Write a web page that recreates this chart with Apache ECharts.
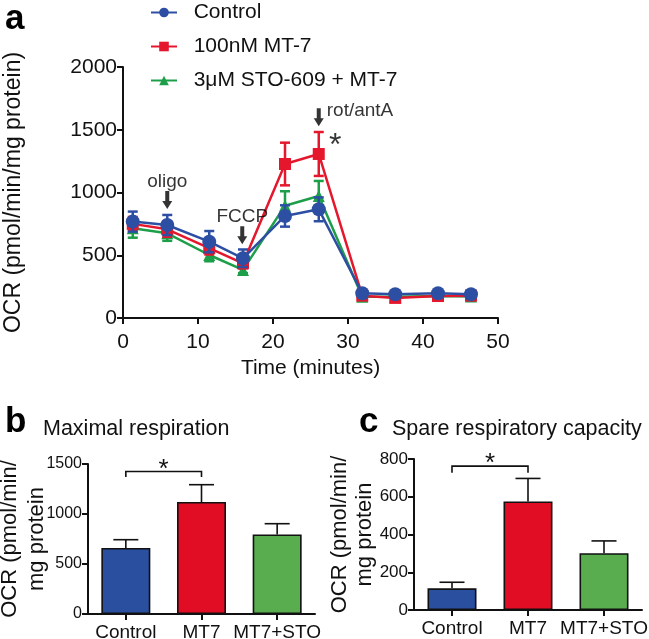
<!DOCTYPE html>
<html>
<head>
<meta charset="utf-8">
<script src="https://cdn.jsdelivr.net/npm/echarts@6/dist/echarts.min.js"></script>
<style>
  html, body { margin: 0; padding: 0; background: #fff; }
  #chart { width: 649px; height: 639px; }
</style>
</head>
<body>
<div id="chart"></div>
<script>
// data
const times = [1.3, 5.9, 11.5, 16, 21.6, 26.1, 31.9, 36.3, 42, 46.4];
const controlMean = [768, 741, 608, 476, 813, 866, 197, 189, 197, 189];
const controlErr = [80, 80, 85, 70, 85, 95, 12, 12, 12, 12];
const mt7Mean = [750, 707, 556, 436, 1227, 1307, 178, 160, 175, 178];
const mt7Err = [55, 60, 50, 40, 170, 175, 12, 12, 12, 12];
const stoMean = [715, 675, 502, 383, 895, 972, 170, 170, 175, 172];
const stoErr = [75, 60, 50, 25, 115, 120, 10, 10, 10, 10];
const legendNames = ['Control', '100nM MT-7', '3\u03bcM STO-609 + MT-7'];

const yTicksA = [0, 2000, 500];
const xTicksA = [0, 50, 10];

// injection annotations (time, y-position, text)
const arrowTimes = [5.9, 15.9, 26.1];
const arrowValues = [940, 660, 1600];
const arrowLabels = ['oligo', 'FCCP', 'rot/antA'];
const starA = [28.3, 1370];

const barCats = ['Control', 'MT7', 'MT7+STO'];
const maxResp = [660, 1120, 796];
const maxRespErr = [83, 173, 107];
const spareCap = [115, 575, 301];
const spareCapErr = [32, 122, 65];
// significance brackets: [fromIdx, toIdx, top, legEnd]
const sigB = [0, 1, 1425, 1370];
const sigC = [0, 1, 762, 727];

const FONT = 'Liberation Sans, Arial, sans-serif';
const BLUE = '#2d4fa3', RED = '#e5172c', GREEN = '#1d9e48';
const barColors = ['#2a4f9f', '#e10d25', '#5aad4f'];

const chart = echarts.init(document.getElementById('chart'));

function zip(a, b, c) {
  return a.map((v, i) => c ? [v, b[i], c[i]] : [v, b[i]]);
}

function errorBars(color) {
  return function(params, api) {
    const x = api.value(0), m = api.value(1), e = api.value(2);
    const hi = api.coord([x, m + e]);
    const lo = api.coord([x, m - e]);
    const w = 5;
    const st = { stroke: color, lineWidth: 2.5 };
    return { type: 'group', children: [
      { type: 'line', shape: { x1: hi[0], y1: hi[1], x2: lo[0], y2: lo[1] }, style: st },
      { type: 'line', shape: { x1: hi[0] - w, y1: hi[1], x2: hi[0] + w, y2: hi[1] }, style: st },
      { type: 'line', shape: { x1: lo[0] - w, y1: lo[1], x2: lo[0] + w, y2: lo[1] }, style: st }
    ]};
  };
}

function barErrors(params, api) {
  const i = api.value(0), m = api.value(1), e = api.value(2);
  const base = api.coord([i, m]);
  const hi = api.coord([i, m + e]);
  const w = 12.5;
  const st = { stroke: '#111', lineWidth: 1.6 };
  return { type: 'group', children: [
    { type: 'line', shape: { x1: base[0], y1: base[1], x2: hi[0], y2: hi[1] }, style: st },
    { type: 'line', shape: { x1: hi[0] - w, y1: hi[1], x2: hi[0] + w, y2: hi[1] }, style: st }
  ]};
}

function bracket(params, api) {
  const a = api.value(0), b = api.value(1), top = api.value(2), leg = api.value(3);
  const p1 = api.coord([a, leg]), p2 = api.coord([a, top]);
  const p3 = api.coord([b, top]), p4 = api.coord([b, leg]);
  return { type: 'group', children: [
    { type: 'polyline', shape: { points: [p1, p2, p3, p4] }, style: { stroke: '#111', lineWidth: 1.6, fill: null } },
    { type: 'text', x: (p2[0] + p3[0]) / 2, y: p2[1] - 2,
      style: { text: '*', fontSize: 26, fontFamily: FONT, fill: '#111', align: 'center', verticalAlign: 'middle' } }
  ]};
}

const axisLineStyle = { show: true, lineStyle: { color: '#111', width: 2 } };
const tickStyle = { show: true, inside: false, length: 6, lineStyle: { color: '#111', width: 2 } };
const plain = (v) => String(v);

const option = {
  animation: false,
  title: [
    { text: 'a', left: 0, top: -3, textStyle: { fontSize: 35, fontWeight: 'bold', color: '#000', fontFamily: FONT } },
    { text: 'b', left: 0, top: 400, textStyle: { fontSize: 35, fontWeight: 'bold', color: '#000', fontFamily: FONT } },
    { text: 'Maximal respiration', left: 38, top: 413, textStyle: { fontSize: 21.5, fontWeight: 'normal', color: '#111', fontFamily: FONT } },
    { text: 'c', left: 354, top: 400, textStyle: { fontSize: 35, fontWeight: 'bold', color: '#000', fontFamily: FONT } },
    { text: 'Spare respiratory capacity', left: 387, top: 413, textStyle: { fontSize: 21.5, fontWeight: 'normal', color: '#111', fontFamily: FONT } }
  ],
  legend: {
    data: legendNames,
    orient: 'vertical',
    left: 145,
    top: -3,
    itemGap: 13,
    itemWidth: 26,
    itemHeight: 12,
    formatter: '  {name}',
    textStyle: { fontSize: 21, color: '#111', fontFamily: FONT }
  },
  grid: [
    { left: 123, top: 67, width: 375, height: 251, outerBoundsMode: 'none', containLabel: false },
    { left: 88, top: 464, width: 227, height: 150, outerBoundsMode: 'none', containLabel: false },
    { left: 414, top: 459, width: 228, height: 151, outerBoundsMode: 'none', containLabel: false }
  ],
  xAxis: [
    {
      gridIndex: 0, type: 'value', min: xTicksA[0], max: xTicksA[1], interval: xTicksA[2],
      axisLine: axisLineStyle, axisTick: tickStyle, splitLine: { show: false },
      axisLabel: { fontSize: 21, color: '#111', fontFamily: FONT, margin: 14, formatter: plain },
      name: 'Time (minutes)', nameLocation: 'middle', nameGap: 40,
      nameTextStyle: { fontSize: 21, color: '#111', fontFamily: FONT }
    },
    {
      gridIndex: 1, type: 'category', data: barCats,
      axisLine: axisLineStyle, axisTick: Object.assign({ alignWithLabel: true }, tickStyle),
      axisLabel: { fontSize: 19, color: '#111', fontFamily: FONT, margin: 9, interval: 0 }
    },
    {
      gridIndex: 2, type: 'category', data: barCats,
      axisLine: axisLineStyle, axisTick: Object.assign({ alignWithLabel: true }, tickStyle),
      axisLabel: { fontSize: 19, color: '#111', fontFamily: FONT, margin: 9, interval: 0 }
    }
  ],
  yAxis: [
    {
      gridIndex: 0, type: 'value', min: yTicksA[0], max: yTicksA[1], interval: yTicksA[2],
      axisLine: axisLineStyle, axisTick: tickStyle, splitLine: { show: false },
      axisLabel: { fontSize: 21, color: '#111', fontFamily: FONT, margin: 6, formatter: plain },
      name: 'OCR (pmol/min/mg protein)', nameLocation: 'middle', nameGap: 98,
      nameTextStyle: { fontSize: 23, color: '#111', fontFamily: FONT }
    },
    {
      gridIndex: 1, type: 'value', min: 0, max: 1500, interval: 500,
      axisLine: axisLineStyle, axisTick: tickStyle, splitLine: { show: false },
      axisLabel: { fontSize: 16, color: '#111', fontFamily: FONT, margin: 6, formatter: plain },
      name: 'OCR (pmol/min/\nmg protein', nameLocation: 'middle', nameGap: 38, nameMoveOverlap: false,
      nameTextStyle: { fontSize: 22, lineHeight: 27, color: '#111', fontFamily: FONT }
    },
    {
      gridIndex: 2, type: 'value', min: 0, max: 800, interval: 200,
      axisLine: axisLineStyle, axisTick: tickStyle, splitLine: { show: false },
      axisLabel: { fontSize: 17, color: '#111', fontFamily: FONT, margin: 6, formatter: plain },
      name: 'OCR (pmol/min/\nmg protein', nameLocation: 'middle', nameGap: 37, nameMoveOverlap: false,
      nameTextStyle: { fontSize: 22, lineHeight: 25, color: '#111', fontFamily: FONT }
    }
  ],
  series: [
    // panel a: error bars + lines (green, red, blue so blue sits on top)
    { type: 'custom', xAxisIndex: 0, yAxisIndex: 0, renderItem: errorBars(GREEN),
      data: zip(times, stoMean, stoErr), encode: { x: 0, y: 1 }, z: 2 },
    { name: legendNames[2], type: 'line', xAxisIndex: 0, yAxisIndex: 0,
      data: zip(times, stoMean), symbol: 'triangle', symbolSize: 12,
      itemStyle: { color: GREEN }, lineStyle: { color: GREEN, width: 2.5 }, z: 3 },
    { type: 'custom', xAxisIndex: 0, yAxisIndex: 0, renderItem: errorBars(RED),
      data: zip(times, mt7Mean, mt7Err), encode: { x: 0, y: 1 }, z: 4 },
    { name: legendNames[1], type: 'line', xAxisIndex: 0, yAxisIndex: 0,
      data: zip(times, mt7Mean), symbol: 'rect', symbolSize: 12,
      itemStyle: { color: RED }, lineStyle: { color: RED, width: 2.5 }, z: 5 },
    { type: 'custom', xAxisIndex: 0, yAxisIndex: 0, renderItem: errorBars(BLUE),
      data: zip(times, controlMean, controlErr), encode: { x: 0, y: 1 }, z: 6 },
    { name: legendNames[0], type: 'line', xAxisIndex: 0, yAxisIndex: 0,
      data: zip(times, controlMean), symbol: 'circle', symbolSize: 14,
      itemStyle: { color: BLUE }, lineStyle: { color: BLUE, width: 2.5 }, z: 7 },
    // injection arrows
    {
      type: 'scatter', xAxisIndex: 0, yAxisIndex: 0, z: 8, silent: true,
      symbol: 'path://M3,0 L7,0 L7,10 L10,10 L5,18 L0,10 L3,10 Z',
      symbolSize: [10, 18],
      itemStyle: { color: '#000' },
      data: arrowTimes.map((t, i) => ({
        value: [t, arrowValues[i]],
        label: i === 2
          ? { show: true, position: 'right', distance: 3, offset: [0, -6], formatter: arrowLabels[i], fontSize: 19, color: '#000', fontFamily: FONT }
          : { show: true, position: 'top', distance: 0, formatter: arrowLabels[i], fontSize: 19, color: '#000', fontFamily: FONT }
      }))
    },
    // significance mark on panel a
    {
      type: 'scatter', xAxisIndex: 0, yAxisIndex: 0, z: 8, silent: true,
      symbol: 'circle', symbolSize: 2, itemStyle: { color: 'rgba(0,0,0,0)' },
      data: [starA],
      label: { show: true, position: 'inside', formatter: '*', fontSize: 32, color: '#000', fontFamily: FONT }
    },
    // panel b
    {
      type: 'bar', xAxisIndex: 1, yAxisIndex: 1, data: maxResp, barWidth: 49,
      itemStyle: { color: (p) => barColors[p.dataIndex], borderColor: '#111', borderWidth: 1.6 }
    },
    { type: 'custom', xAxisIndex: 1, yAxisIndex: 1, renderItem: barErrors,
      data: maxResp.map((v, i) => [i, v, maxRespErr[i]]), z: 3 },
    { type: 'custom', xAxisIndex: 1, yAxisIndex: 1, renderItem: bracket, data: [sigB], z: 3 },
    // panel c
    {
      type: 'bar', xAxisIndex: 2, yAxisIndex: 2, data: spareCap, barWidth: 49,
      itemStyle: { color: (p) => barColors[p.dataIndex], borderColor: '#111', borderWidth: 1.6 }
    },
    { type: 'custom', xAxisIndex: 2, yAxisIndex: 2, renderItem: barErrors,
      data: spareCap.map((v, i) => [i, v, spareCapErr[i]]), z: 3 },
    { type: 'custom', xAxisIndex: 2, yAxisIndex: 2, renderItem: bracket, data: [sigC], z: 3 }
  ]
};

chart.setOption(option);
window.addEventListener('resize', function() {
  chart.resize();
});
</script>
</body>
</html>
